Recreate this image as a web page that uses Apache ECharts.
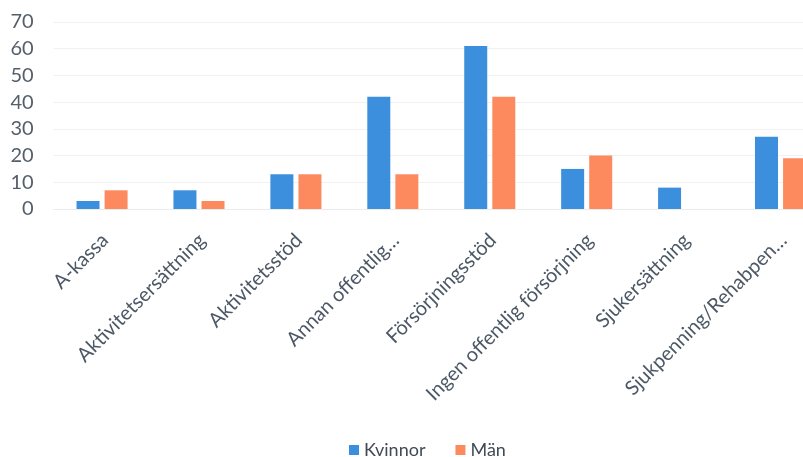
<!DOCTYPE html>
<html>
<head>
<meta charset="utf-8">
<script src="https://cdn.jsdelivr.net/npm/echarts@6/dist/echarts.min.js"></script>
<style>
html,body{margin:0;padding:0;background:#fff;}
#chart{width:803px;height:457px;}
</style>
</head>
<body>
<div id="chart"></div>
<script>
var categories = ["A-kassa", "Aktivitetsersättning", "Aktivitetsstöd", "Annan offentlig…", "Försörjningsstöd", "Ingen offentlig försörjning", "Sjukersättning", "Sjukpenning/Rehabpen…"];
var kvinnor = [3, 7, 13, 42, 61, 15, 8, 27];
var man = [7, 3, 13, 13, 42, 20, 0, 19];
var yTicks = [0, 10, 20, 30, 40, 50, 60, 70];

var FONT = 'Lato';
var chart = echarts.init(document.getElementById('chart'));
var gridTop = 22, gridBottom = 457 - 209;
chart.setOption({
  animation: false,
  backgroundColor: '#ffffff',
  textStyle: { fontFamily: FONT },
  legend: {
    data: ['Kvinnor', 'Män'],
    left: 344, top: 434,
    itemWidth: 10, itemHeight: 10, itemGap: 30,
    icon: 'rect',
    textStyle: { fontFamily: FONT, fontSize: 18, color: '#404a56', lineHeight: 22 }
  },
  grid: [
    { left: 53.6, right: -26, top: gridTop, bottom: gridBottom, containLabel: false, outerBoundsMode: 'none' },
    { left: 56.6, right: -29, top: gridTop, bottom: gridBottom, containLabel: false, outerBoundsMode: 'none' }
  ],
  xAxis: [
    {
      type: 'category', gridIndex: 0, data: categories,
      axisLine: { show: true, lineStyle: { color: '#ececec' } },
      axisTick: { show: false },
      axisLabel: { show: false }
    },
    {
      type: 'category', gridIndex: 1, data: categories,
      axisLine: { show: false }, axisTick: { show: false },
      axisLabel: { show: true, rotate: 45, margin: 28, interval: 0, fontFamily: FONT, fontSize: 20, color: '#4d5866' }
    }
  ],
  yAxis: [
    {
      type: 'value', gridIndex: 0, min: yTicks[0], max: yTicks[yTicks.length - 1], interval: 10,
      axisLine: { show: false }, axisTick: { show: false },
      splitLine: { show: true, lineStyle: { color: '#f1f1f1' } },
      axisLabel: { margin: 20, fontFamily: FONT, fontSize: 20, color: '#555f6b' }
    },
    {
      type: 'value', gridIndex: 1, min: 0, max: 70, show: false, splitLine: { show: false }
    }
  ],
  series: [
    { name: 'Kvinnor', type: 'bar', xAxisIndex: 0, yAxisIndex: 0, data: kvinnor, barWidth: 23, barGap: '22%', itemStyle: { color: '#3b8fdc' } },
    { name: 'Män', type: 'bar', xAxisIndex: 0, yAxisIndex: 0, data: man, barWidth: 23, barGap: '22%', itemStyle: { color: '#fd8a5e' } }
  ]
});
</script>
</body>
</html>
